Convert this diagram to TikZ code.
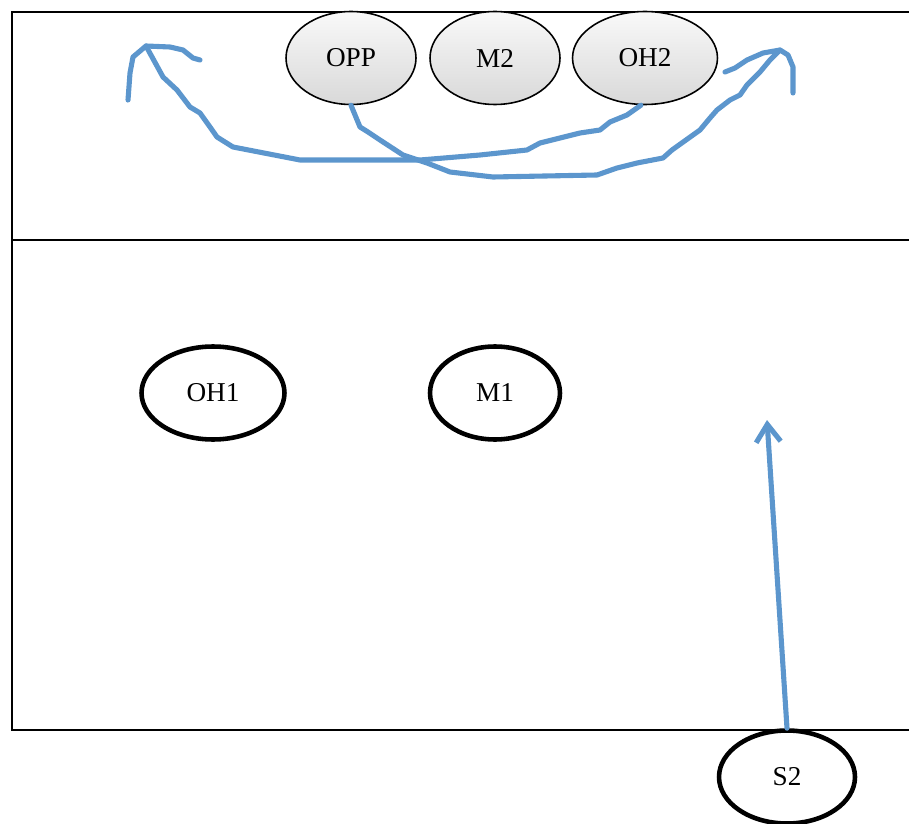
\documentclass[tikz,border=0pt]{standalone}
\usepackage{fontspec}
\setmainfont{Liberation Serif}
\usepackage{tikz}
\usetikzlibrary{shapes}
\usetikzlibrary{arrows.meta}
\definecolor{runblue}{RGB}{92,150,205}

\begin{document}
\begin{tikzpicture}[x=0.02cm,y=-0.02cm,
  player/.style={ellipse,draw,line width=2.6pt,inner sep=0pt,minimum height=1.86cm,font=\fontsize{15.5}{17}\selectfont},
  opp/.style={ellipse,draw,line width=0.9pt,inner sep=0pt,minimum height=1.86cm,top color=gray!5,bottom color=gray!30,font=\fontsize{15.5}{17}\selectfont},
  run/.style={draw=runblue,line width=2.9pt,line cap=round,line join=round}]
\useasboundingbox (0,0) rectangle (909,824);
\draw[line width=1.1pt] (909,12)--(12,12)--(12,730)--(909,730);
\draw[line width=1.1pt] (12,240)--(909,240);
\node[opp,minimum width=2.6cm] (OPP) at (351,58) {OPP};
\node[opp,minimum width=2.6cm] (M2) at (495,58) {M2};
\node[opp,minimum width=2.9cm] (OH2) at (645,58) {OH2};
\node[player,minimum width=2.86cm] (OH1) at (213,393) {OH1};
\node[player,minimum width=2.6cm] (M1) at (495,393) {M1};
\node[player,minimum width=2.72cm] (S2) at (787,777) {S2};
\coordinate (tipR) at (780,50);
\coordinate (tipL) at (146,46);
\coordinate (tipS) at (767,420);
\draw[run] (OPP.south)--(360,127)--(368,132)--(380,140)--(403,155)--(427,163)--(450,172)--(493,177)--(597,175)--(617,168)--(637,163)--(663,158)--(672,150)--(693,135)--(700,130)--(710,118)--(717,110)--(730,100)--(740,95)--(747,85)--(760,72)--(770,60)--(tipR);
\draw[run] (725,72)--(735,68)--(747,60)--(763,53)--(tipR)--(788,55)--(793,67)--(793,93);
\draw[run] (OH2.-95)--(627,115)--(610,122)--(600,130)--(580,133)--(540,143)--(527,150)--(480,155)--(420,160)--(300,160)--(233,147)--(217,137)--(210,127)--(200,113)--(190,107)--(177,90)--(163,77)--(tipL);
\draw[run] (128,100)--(130,73)--(133,57)--(tipL)--(170,47)--(183,50)--(193,58)--(200,60);
\draw[run,-{Straight Barb[length=10pt,width=14pt]}] (S2.north)--(tipS);
\end{tikzpicture}
\end{document}
